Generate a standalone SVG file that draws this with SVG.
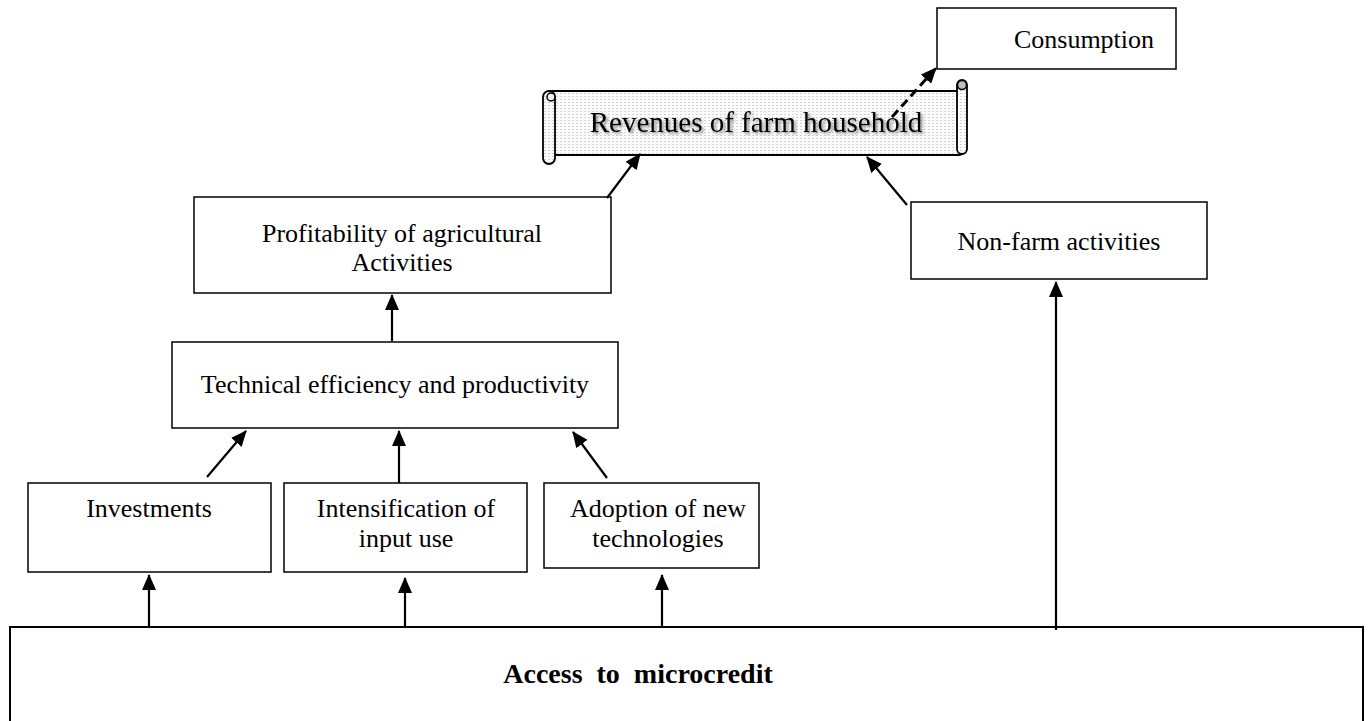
<svg xmlns="http://www.w3.org/2000/svg" width="1370" height="721" viewBox="0 0 1370 721">
<style>
.box{fill:#fff;stroke:#000;stroke-width:1.5}
.t{font-family:"Liberation Serif","Times New Roman",serif;font-size:26px;fill:#000;text-anchor:middle}
.conn line{stroke:#000;stroke-width:2.2}
</style>
<defs>
<marker id="ah" markerUnits="userSpaceOnUse" markerWidth="16" markerHeight="14" refX="15" refY="7" orient="auto">
<path d="M0,0 L16,7 L0,14 z" fill="#000"/>
</marker>
<pattern id="dots" width="4" height="3" patternUnits="userSpaceOnUse">
<rect width="4" height="3" fill="#fdfdfd"/>
<rect width="2" height="1" fill="#d2d2d2"/>
</pattern>
<filter id="sh" x="-5%" y="-20%" width="110%" height="150%">
<feGaussianBlur in="SourceAlpha" stdDeviation="1.8" result="b"/>
<feOffset in="b" dx="2" dy="2" result="o"/>
<feComponentTransfer in="o" result="c"><feFuncA type="linear" slope="0.45"/></feComponentTransfer>
<feMerge><feMergeNode in="c"/><feMergeNode in="SourceGraphic"/></feMerge>
</filter>
</defs>

<g id="consumption">
<rect class="box" x="937" y="8" width="239" height="61"/>
<text class="t" x="1084" y="48">Consumption</text>
</g>

<g id="revenues">
<rect x="549" y="91" width="413" height="64" rx="3" fill="url(#dots)" stroke="#000" stroke-width="1.8"/>
<rect x="543" y="91" width="12" height="73" rx="6" fill="url(#dots)" stroke="#000" stroke-width="1.8"/>
<circle cx="551" cy="97" r="4" fill="#f2f2f2" stroke="#000" stroke-width="1.5"/>
<rect x="957" y="80" width="10" height="74" rx="5" fill="url(#dots)" stroke="#000" stroke-width="1.8"/>
<circle cx="962" cy="85" r="4.5" fill="#bdbdbd" stroke="#000" stroke-width="1.5"/>
<text class="t" x="756" y="132" style="font-size:29px" filter="url(#sh)">Revenues of farm household</text>
</g>

<g id="profitability">
<rect class="box" x="194" y="197" width="417" height="96"/>
<text class="t" x="402" y="242">Profitability of agricultural</text>
<text class="t" x="402" y="271">Activities</text>
</g>

<g id="nonfarm">
<rect class="box" x="911" y="202" width="296" height="77"/>
<text class="t" x="1059" y="250">Non-farm activities</text>
</g>

<g id="technical">
<rect class="box" x="172" y="342" width="446" height="86"/>
<text class="t" x="395" y="393">Technical efficiency and productivity</text>
</g>

<g id="investments">
<rect class="box" x="28" y="483" width="243" height="89"/>
<text class="t" x="149" y="517">Investments</text>
</g>

<g id="intensification">
<rect class="box" x="284" y="483" width="243" height="89"/>
<text class="t" x="406" y="517">Intensification of</text>
<text class="t" x="406" y="547">input use</text>
</g>

<g id="adoption">
<rect class="box" x="544" y="483" width="215" height="85"/>
<text class="t" x="658" y="517">Adoption of new</text>
<text class="t" x="658" y="547">technologies</text>
</g>

<g id="access">
<rect x="10" y="627" width="1353" height="110" fill="#fff" stroke="#000" stroke-width="2"/>
<text class="t" x="638" y="683" style="font-weight:bold;font-size:28px;white-space:pre">Access  to  microcredit</text>
</g>

<g id="connectors" class="conn">
<line x1="207" y1="477" x2="246" y2="431" marker-end="url(#ah)"/>
<line x1="399" y1="483" x2="399" y2="431" marker-end="url(#ah)"/>
<line x1="607" y1="478" x2="573" y2="432" marker-end="url(#ah)"/>
<line x1="392" y1="341" x2="392" y2="295" marker-end="url(#ah)"/>
<line x1="607" y1="198" x2="640" y2="154" marker-end="url(#ah)"/>
<line x1="907" y1="205" x2="867" y2="157" marker-end="url(#ah)"/>
<line x1="892" y1="117" x2="936" y2="68" stroke-dasharray="9 5" style="stroke-width:3" marker-end="url(#ah)"/>
<line x1="149" y1="626" x2="149" y2="575" marker-end="url(#ah)"/>
<line x1="405" y1="626" x2="405" y2="578" marker-end="url(#ah)"/>
<line x1="662" y1="626" x2="662" y2="575" marker-end="url(#ah)"/>
<line x1="1056" y1="630" x2="1056" y2="282" marker-end="url(#ah)"/>
</g>
</svg>
